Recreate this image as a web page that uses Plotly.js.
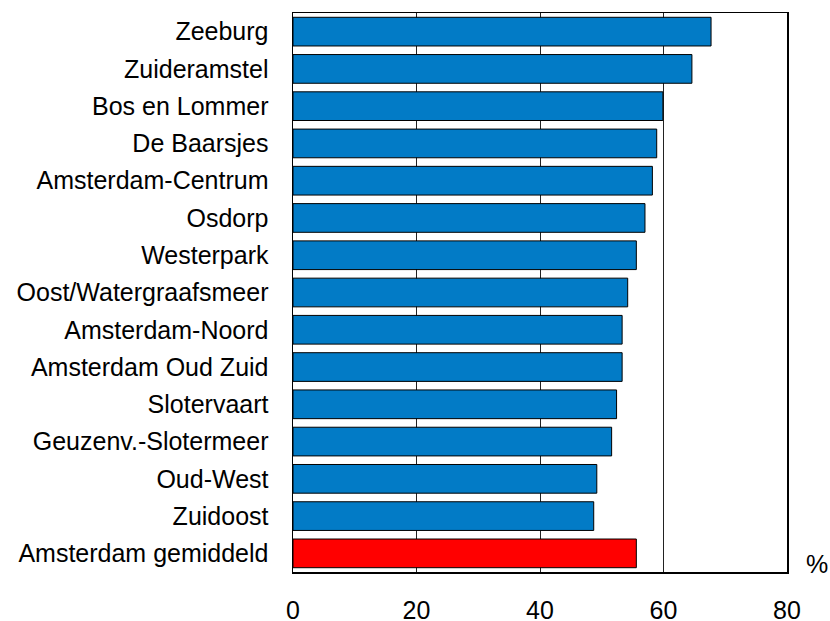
<!DOCTYPE html>
<html>
<head>
<meta charset="utf-8">
<script src="https://cdn.plot.ly/plotly-3.0.1.min.js"></script>
<style>html,body{margin:0;padding:0;background:#fff;}#chart{width:830px;height:621px;}</style>
</head>
<body>
<div id="chart"></div>
<script>
const categories = ["Zeeburg","Zuideramstel","Bos en Lommer","De Baarsjes","Amsterdam-Centrum","Osdorp","Westerpark","Oost/Watergraafsmeer","Amsterdam-Noord","Amsterdam Oud Zuid","Slotervaart","Geuzenv.-Slotermeer","Oud-West","Zuidoost","Amsterdam gemiddeld"];
const values = [67.7,64.6,59.9,58.9,58.2,57.0,55.6,54.2,53.3,53.3,52.4,51.6,49.2,48.7,55.6];
const barColors = categories.map(c => c === "Amsterdam gemiddeld" ? "#FF0000" : "#027BC6");
const xTicks = [0,20,40,60,80];

const trace = {
  type: "bar",
  orientation: "h",
  y: categories,
  x: values,
  marker: {color: barColors, line: {color: "#000", width: 1}},
  width: 0.77,
  hoverinfo: "x+y"
};

const layout = {
  width: 830, height: 621,
  margin: {l: 293, r: 43, t: 13, b: 49},
  paper_bgcolor: "#fff", plot_bgcolor: "#fff",
  font: {family: "Liberation Sans, Arial, sans-serif", size: 25, color: "#000"},
  showlegend: false,
  xaxis: {
    range: [0, 80], tickvals: xTicks, ticktext: xTicks.map(String),
    showgrid: true, gridcolor: "#222", gridwidth: 1,
    zeroline: false, showline: true, linecolor: "#000", linewidth: 1.5, mirror: true,
    ticks: "", ticklabelstandoff: 15,
    tickfont: {size: 25, color: "#000"}, fixedrange: true
  },
  yaxis: {
    autorange: "reversed", type: "category",
    showgrid: false, zeroline: false, showline: true, linecolor: "#000", linewidth: 1.5, mirror: true,
    ticks: "", ticklabelstandoff: 18,
    tickfont: {size: 25, color: "#000"}, fixedrange: true
  },
  annotations: [{
    text: "%", xref: "paper", yref: "paper", x: 1.0, y: 0, xanchor: "left", yanchor: "bottom",
    xshift: 17, yshift: -8, showarrow: false, font: {size: 25, color: "#000"}
  }]
};

Plotly.newPlot("chart", [trace], layout, {displayModeBar: false, staticPlot: true});
</script>
</body>
</html>
